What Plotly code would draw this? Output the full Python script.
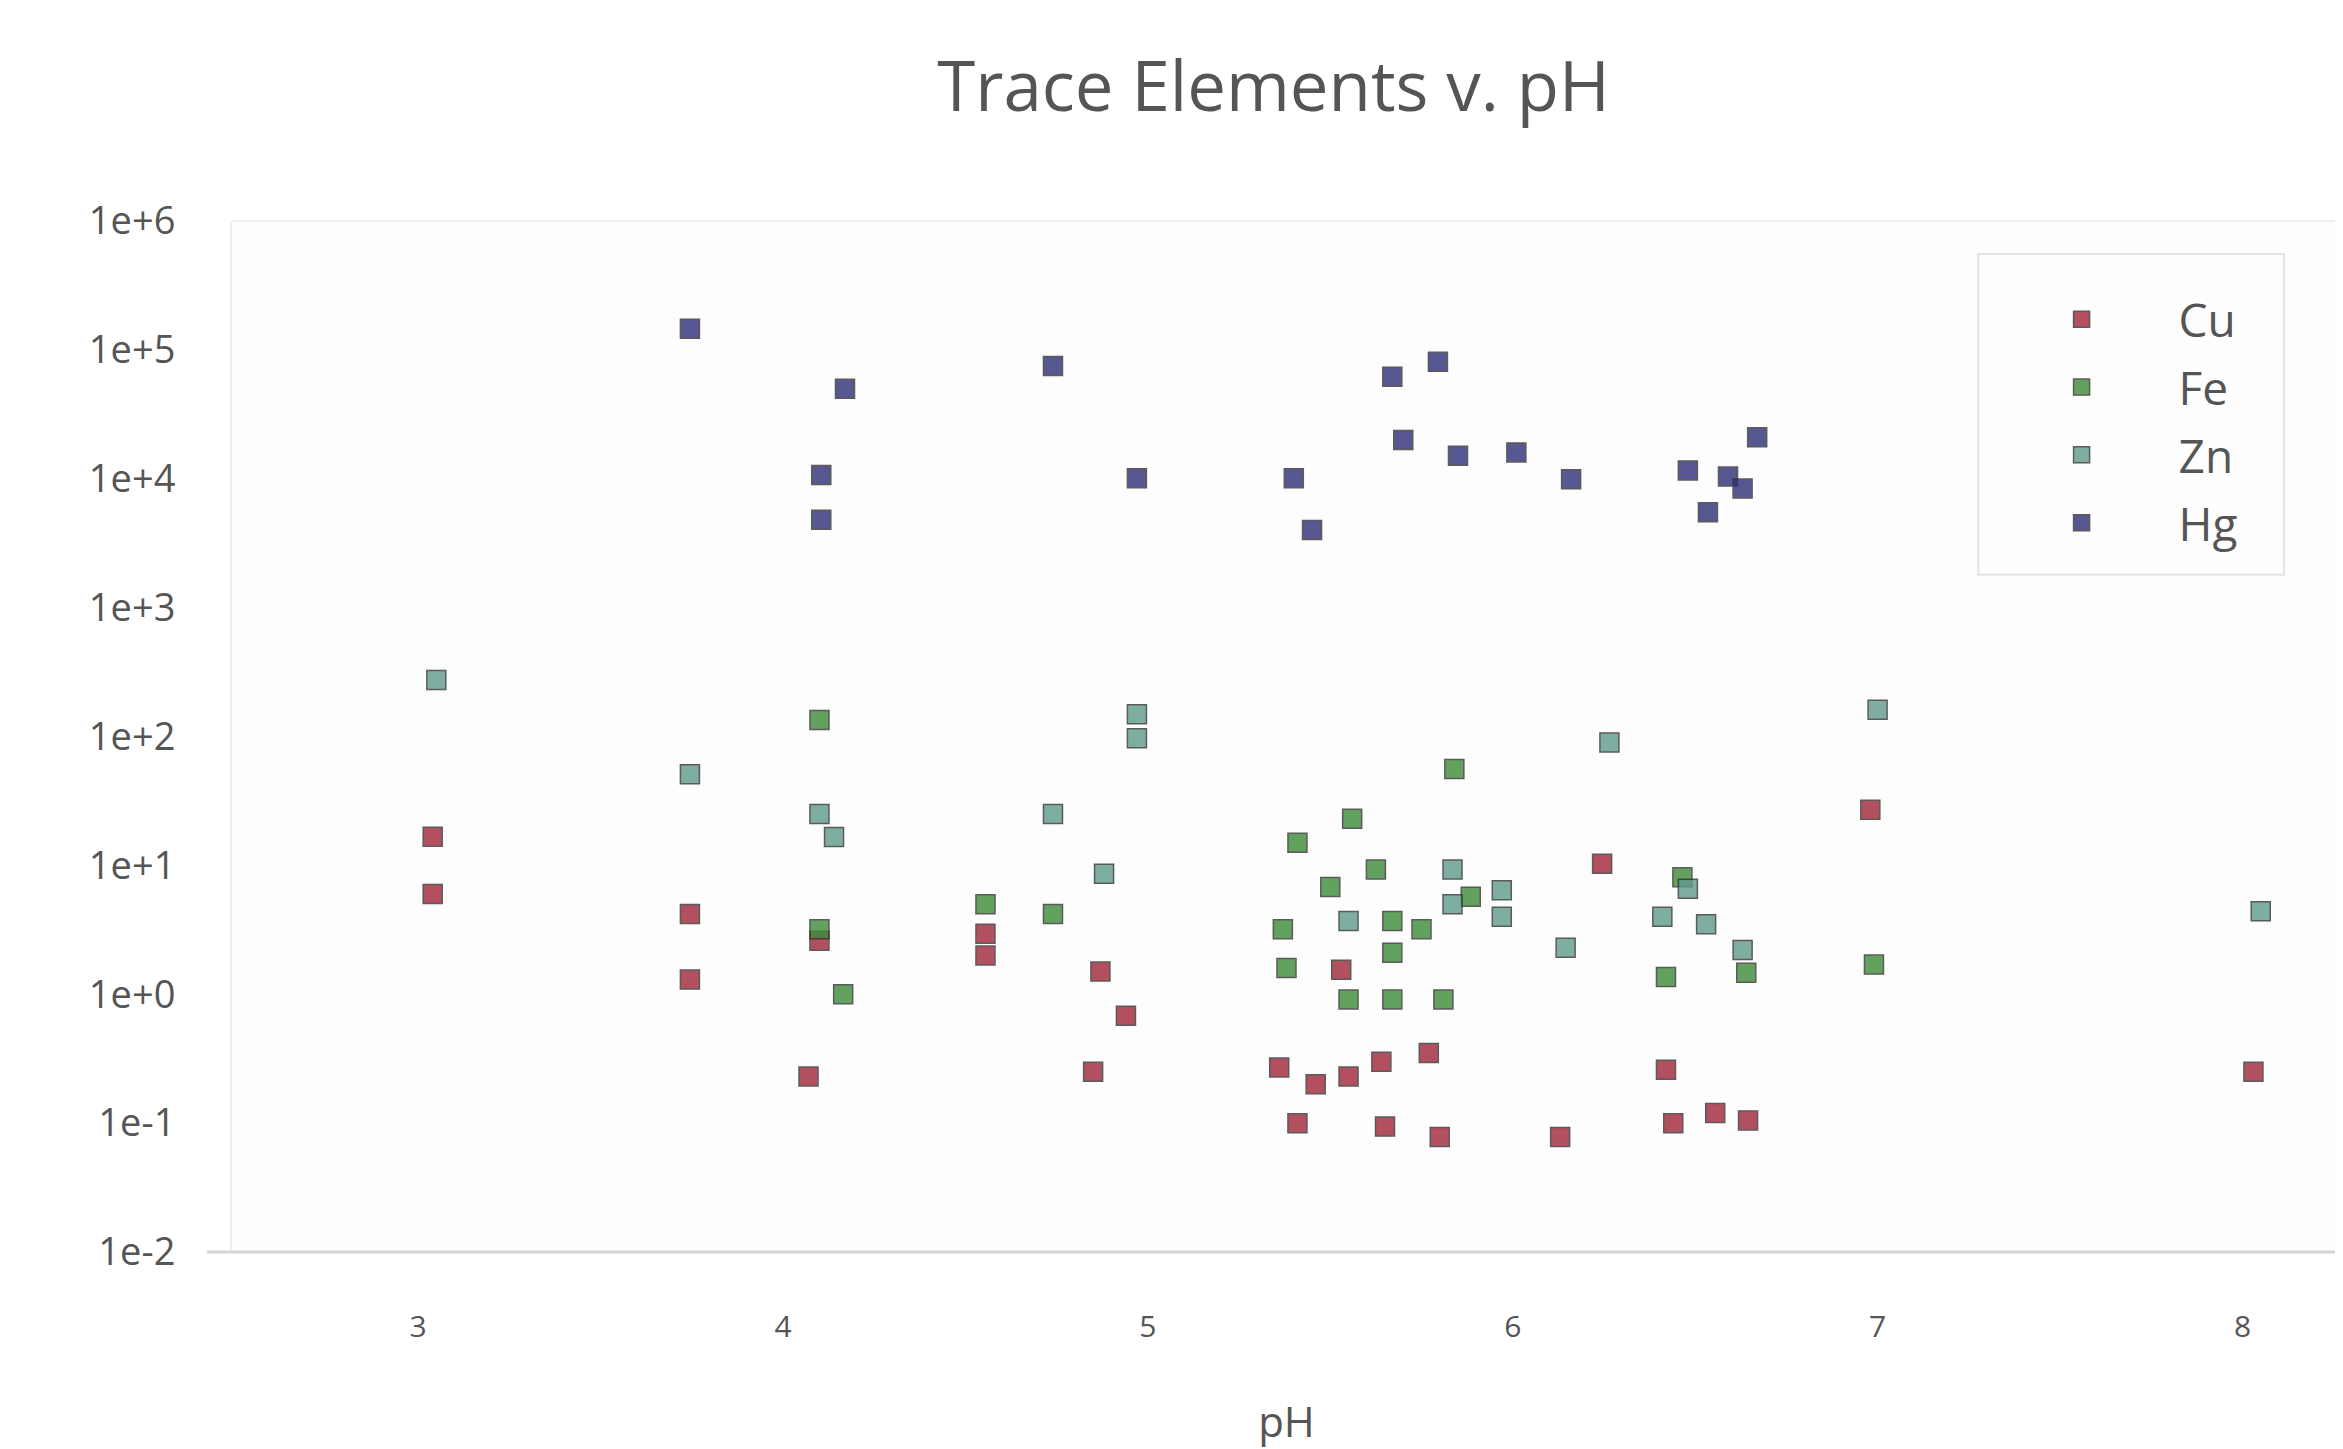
import plotly.graph_objects as go

# ---- data ----
cu_ph = [3.04, 3.04, 3.745, 3.745, 4.07, 4.85, 4.94, 4.87, 8.03, 5.53, 5.36, 5.46, 5.55, 5.64, 5.77,
         5.41, 5.65, 5.80, 6.13, 6.245, 6.42, 6.44, 6.555, 6.645, 6.98, 4.10, 4.555, 4.555]
cu_val = [16.7, 6.0, 4.2, 1.3, 0.23, 0.25, 0.68, 1.5, 0.25, 1.55, 0.27, 0.20, 0.23, 0.30, 0.35,
          0.10, 0.094, 0.078, 0.078, 10.3, 0.26, 0.10, 0.12, 0.105, 27, 2.6, 2.95, 2.0]

fe_ph = [4.10, 5.84, 5.41, 5.625, 5.50, 5.37, 5.38, 5.67, 5.75, 5.67, 5.55, 5.67, 5.81,
         6.465, 6.42, 6.64, 6.99, 4.165, 4.10, 4.555, 4.74, 5.56, 5.885]
fe_val = [134, 56, 15, 9.3, 6.8, 3.2, 1.6, 3.7, 3.2, 2.1, 0.91, 0.91, 0.91,
          8.1, 1.36, 1.47, 1.7, 1.0, 3.2, 5.0, 4.2, 23, 5.7]

zn_ph = [3.05, 3.745, 4.10, 4.14, 4.74, 4.88, 4.97, 4.97, 6.265, 7.0, 8.05, 6.145, 6.41,
         6.53, 6.63, 5.97, 5.97, 5.835, 5.835, 5.55, 6.48]
zn_val = [275, 51, 25, 16.6, 25, 8.6, 149, 97, 90, 161, 4.4, 2.3, 4.0,
          3.5, 2.2, 6.4, 4.0, 9.3, 5.0, 3.7, 6.6]

hg_ph = [3.745, 4.17, 4.74, 4.105, 4.105, 4.97, 5.40, 5.45, 5.67, 5.795, 5.70, 5.85, 6.01,
         6.16, 6.48, 6.67, 6.59, 6.535, 6.63]
hg_val = [146000, 50000, 75000, 10700, 4800, 10100, 10100, 4000, 62000, 81000, 20000, 15100, 16000,
          9900, 11600, 21000, 10400, 5500, 8400]

series_names = ["Cu", "Fe", "Zn", "Hg"]
series_colors = ["#a1263a", "#3d8b37", "#5f9a8c", "#2e2e78"]

y_tickvals = [1e-2, 1e-1, 1e0, 1e1, 1e2, 1e3, 1e4, 1e5, 1e6]
y_ticktext = ["1e-2", "1e-1", "1e+0", "1e+1", "1e+2", "1e+3", "1e+4", "1e+5", "1e+6"]
x_tickvals = [3, 4, 5, 6, 7, 8]

title_text = "Trace Elements v. pH"
x_title = "pH"

# ---- figure ----
fig = go.Figure()
for name, color, xs, ys in zip(series_names, series_colors,
                               [cu_ph, fe_ph, zn_ph, hg_ph],
                               [cu_val, fe_val, zn_val, hg_val]):
    fig.add_trace(go.Scatter(
        x=xs, y=ys, mode="markers", name=name, legendgroup=name,
        marker=dict(symbol="square", size=19, color=color, opacity=0.8,
                    line=dict(width=1.5, color="#333333")),
    ))

fig.update_layout(
    width=2335, height=1441,
    paper_bgcolor="white",
    plot_bgcolor="#fdfdfd",
    font=dict(family="Open Sans, Liberation Sans, sans-serif", color="#444444"),
    title=dict(text=title_text, x=0.542, xanchor="center", y=0.945, yanchor="middle",
               font=dict(size=69, color="#555555")),
    margin=dict(l=224, r=0, t=213, b=197),
    showlegend=True,
    legend=dict(x=0.831, xanchor="left", y=0.94, yanchor="top",
                bgcolor="rgba(0,0,0,0)", borderwidth=0,
                tracegroupgap=5, itemwidth=184,
                font=dict(size=46, color="#555555")),
)

fig.update_xaxes(
    range=[2.49, 8.27],
    tickvals=x_tickvals,
    showgrid=False, zeroline=False,
    showline=False,
    ticks="", ticklabelstandoff=54,
    tickfont=dict(size=30, color="#555555"),
    title=dict(text=x_title, font=dict(size=42, color="#555555"), standoff=66),
)
fig.update_yaxes(
    type="log", range=[-2, 6],
    tickvals=y_tickvals, ticktext=y_ticktext,
    showgrid=False, zeroline=False,
    showline=True, linecolor="#eeeeee", linewidth=2, mirror=True,
    ticks="", ticklabelstandoff=47,
    tickfont=dict(size=38, color="#555555"),
)
# faint top frame and bottom axis line
fig.add_shape(type="line", xref="paper", yref="paper", x0=0, x1=1, y0=1, y1=1,
              line=dict(color="#eeeeee", width=2))
fig.add_shape(type="line", xref="paper", yref="paper", x0=-0.012, x1=1, y0=0, y1=0,
              line=dict(color="#d5d5d5", width=3))
# legend frame
fig.add_shape(type="rect", xref="paper", yref="paper", x0=0.828, x1=0.973, y0=0.657, y1=0.968,
              line=dict(color="#e3e3e3", width=2), fillcolor="rgba(255,255,255,0.6)", layer="below")

fig.write_html("out.html")
